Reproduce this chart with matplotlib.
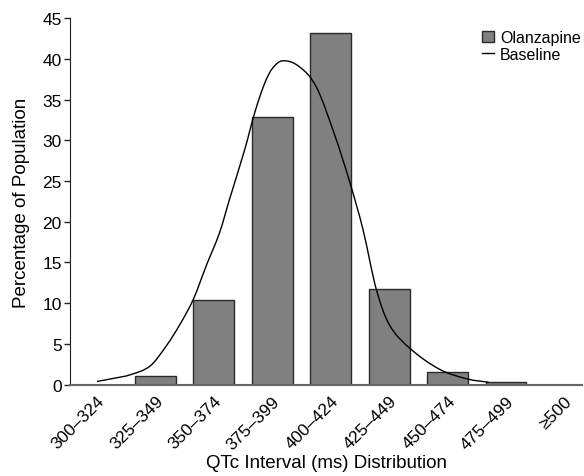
import numpy as np
import matplotlib
matplotlib.use("Agg")
import matplotlib.pyplot as plt
from matplotlib.path import Path
from matplotlib.patches import PathPatch, Patch
from matplotlib.lines import Line2D

plt.rcParams['font.family'] = ['Liberation Sans', 'DejaVu Sans']

categories = ["300–324", "325–349", "350–374", "375–399", "400–424",
              "425–449", "450–474", "475–499", "≥500"]
olanzapine = [0.0, 1.1, 10.4, 32.8, 43.2, 11.7, 1.6, 0.37, 0.0]

# Baseline curve (x in category units)
baseline_x = [0.0, 0.3, 0.56, 0.91, 1.19, 1.42, 1.65, 1.87, 2.10, 2.27, 2.53, 2.70,
              2.87, 3.0, 3.17, 3.45, 3.75, 4.07, 4.32, 4.55, 4.78, 5.0, 5.35, 5.86,
              6.34, 6.7]
baseline_y = [0.4, 0.8, 1.2, 2.3, 4.8, 7.4, 10.5, 14.6, 18.7, 22.8, 28.9, 33.4,
              37.0, 38.8, 39.75, 39.1, 36.6, 30.6, 25.0, 19.1, 11.7, 7.4, 4.5, 1.9,
              0.7, 0.3]

fig = plt.figure(figsize=(5.84, 4.77), dpi=100)
ax = fig.add_axes([0.12, 0.1914, 0.8766, 0.7686])

xpos = np.arange(len(categories))
ax.bar(xpos, olanzapine, width=0.7, color='#808080', edgecolor='#2a2a2a', linewidth=1.0, zorder=2)

# smooth curve: cubic Hermite in x drawn as Bezier path
bx = np.array(baseline_x)
by = np.array(baseline_y)
n = len(bx)
m = np.zeros(n)
m[0] = (by[1] - by[0]) / (bx[1] - bx[0])
m[-1] = (by[-1] - by[-2]) / (bx[-1] - bx[-2])
for i in range(1, n - 1):
    m[i] = (by[i + 1] - by[i - 1]) / (bx[i + 1] - bx[i - 1])
verts = [(bx[0], by[0])]
codes = [Path.MOVETO]
for i in range(n - 1):
    h = bx[i + 1] - bx[i]
    verts += [(bx[i] + h / 3, by[i] + m[i] * h / 3),
              (bx[i + 1] - h / 3, by[i + 1] - m[i + 1] * h / 3),
              (bx[i + 1], by[i + 1])]
    codes += [Path.CURVE4] * 3
ax.add_patch(PathPatch(Path(verts, codes), facecolor='none', edgecolor='black', linewidth=1.0, zorder=3))

ax.set_xlim(-0.46, 8.3)
ax.set_ylim(0, 45)
ax.set_yticks(np.arange(0, 46, 5))
ax.set_xticks(xpos)
ax.set_xticklabels(categories, rotation=45, ha='right', rotation_mode='anchor', fontsize=12.5)
ax.tick_params(axis='x', length=0, pad=6)
ax.tick_params(axis='y', length=4, width=1, labelsize=12.5, pad=2, color='#222222')
for s in ['top', 'right']:
    ax.spines[s].set_visible(False)
ax.spines['left'].set_color('#222222')
ax.spines['bottom'].set_color('#666666')
ax.spines['bottom'].set_linewidth(1.5)

ax.set_ylabel("Percentage of Population", fontsize=13.5, labelpad=9)
ax.set_xlabel("QTc Interval (ms) Distribution", fontsize=13.5, labelpad=2)

handles = [Patch(facecolor='#808080', edgecolor='#2a2a2a', label='Olanzapine'),
           Line2D([0], [0], color='black', linewidth=1.0, label='Baseline')]
ax.legend(handles=handles, loc='upper right', bbox_to_anchor=(1.01, 0.985), frameon=False,
          fontsize=11.5, handlelength=0.75, handleheight=0.75, handletextpad=0.4,
          labelspacing=0.1, borderaxespad=0.0)

fig.savefig("out.png", dpi=100)
